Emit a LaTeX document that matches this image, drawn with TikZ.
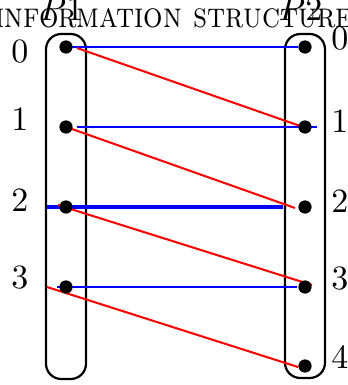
\documentclass[tikz,border=0pt]{standalone}
\begin{document}
\begin{tikzpicture}[x=0.294pt,y=-0.294pt,
  dot/.style={circle,fill=black,inner sep=0pt,minimum size=3.8pt},
  lab/.style={inner sep=0pt},
  grp/.style={draw=black,line width=0.65pt,rounded corners=4.5pt},
  bl/.style={draw=blue,line width=0.6pt},
  rd/.style={draw=red,line width=0.6pt}]
\useasboundingbox (0,0) rectangle (347,385);
\clip (0,0) rectangle (347,385);
% group boxes
\draw[grp] (46,34) rectangle (86,379);
\draw[grp] (285,34) rectangle (325,378);
% dots
\node[dot] (a0) at (66,47) {};
\node[dot] (a1) at (66,127) {};
\node[dot] (a2) at (66,207) {};
\node[dot] (a3) at (66,287) {};
\node[dot] (b0) at (305,47) {};
\node[dot] (b1) at (305,127) {};
\node[dot] (b2) at (305,207) {};
\node[dot] (b3) at (305,287) {};
\node[dot] (b4) at (305,366) {};
% title and headers
\node[lab,anchor=base,xscale=0.9,yscale=1.05] (title) at (174,27) {\textsc{information structure}};
\node[lab,anchor=base] (p1) at (61.5,21) {$P1$};
\node[lab,anchor=base] (p2) at (300.5,21) {$P2$};
% labels
\node[lab] (l0) at (20,52) {0};
\node[lab] (l1) at (20,119) {1};
\node[lab] (l2) at (20,200) {2};
\node[lab] (l3) at (20,277.5) {3};
\node[lab] (r0) at (340,38.5) {0};
\node[lab] (r1) at (340,121) {1};
\node[lab] (r2) at (340,201) {2};
\node[lab] (r3) at (340,279) {3};
\node[lab] (r4) at (340,357) {4};
% blue connectors
\draw[bl] ([xshift=6*0.294pt]a0.center) -- ([xshift=-7*0.294pt]b0.center);
\draw[bl] ([xshift=11*0.294pt]a1.center) -- ([xshift=12*0.294pt]b1.center);
\draw[bl,line width=0.9pt] ([xshift=-19*0.294pt]a2.center) -- ([xshift=-22*0.294pt]b2.center);
\draw[bl] ([xshift=-9*0.294pt]a3.center) -- ([xshift=-8*0.294pt]b3.center);
% red connectors
\draw[rd] ([xshift=11*0.294pt,yshift=-1*0.294pt]a0.center) -- ([xshift=-2*0.294pt]b1.center);
\draw[rd] ([xshift=6*0.294pt,yshift=-2*0.294pt]a1.center) -- ([xshift=-10*0.294pt,yshift=-1*0.294pt]b2.center);
\draw[rd] ([xshift=-8*0.294pt,yshift=2*0.294pt]a2.center) -- ([xshift=7*0.294pt,yshift=2*0.294pt]b3.center);
\draw[rd] ([xshift=-19*0.294pt]a3.center) -- ([xshift=-7*0.294pt,yshift=-1*0.294pt]b4.center);
% dots on top
\foreach \n in {a0,a1,a2,a3,b0,b1,b2,b3,b4} \fill (\n) circle[radius=1.9pt];
\end{tikzpicture}
\end{document}
